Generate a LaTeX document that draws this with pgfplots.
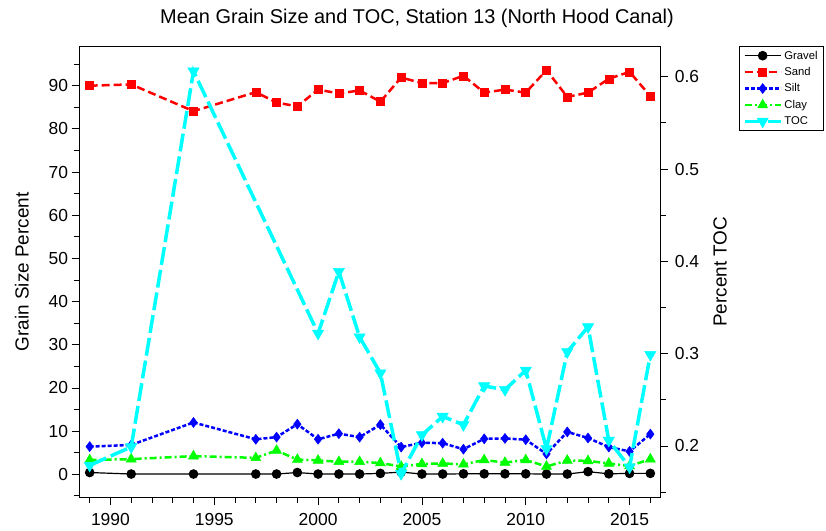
\documentclass[border=0pt]{standalone}
\usepackage{fontspec}
\setmainfont{Liberation Sans}
\usepackage{pgfplots}
\usepackage{pgfplotstable}
\pgfplotsset{compat=1.18}

\pgfplotstableread{
year gravel sand silt clay
1989 0.4 90.0 6.4 3.3
1991 0.05 90.3 6.8 3.5
1994 0.05 84.1 12.0 4.2
1997 0.05 88.5 8.1 3.8
1998 0.05 86.1 8.6 5.5
1999 0.4 85.2 11.6 3.4
2000 0.05 89.1 8.1 3.2
2001 0.05 88.2 9.4 2.9
2002 0.05 88.9 8.6 2.9
2003 0.2 86.3 11.5 2.6
2004 0.5 91.9 6.3 1.8
2005 0.05 90.6 7.3 2.4
2006 0.05 90.6 7.2 2.5
2007 0.1 92.3 5.8 2.3
2008 0.1 88.4 8.2 3.3
2009 0.1 89.1 8.3 2.7
2010 0.1 88.4 8.0 3.3
2011 0.05 93.6 4.7 1.8
2012 0.05 87.4 9.8 3.2
2013 0.6 88.4 8.4 3.1
2014 0.1 91.6 6.3 2.5
2015 0.2 93.2 5.3 1.9
2016 0.2 87.6 9.3 3.5
}\grain

\pgfplotstableread{
year toc
1989 0.179
1991 0.199
1994 0.606
2000 0.322
2001 0.389
2002 0.318
2003 0.279
2004 0.170
2005 0.212
2006 0.232
2007 0.223
2008 0.265
2009 0.261
2010 0.282
2011 0.197
2012 0.302
2013 0.329
2014 0.206
2015 0.177
2016 0.299
}\toc

\definecolor{cred}{RGB}{255,0,0}
\definecolor{cblue}{RGB}{0,0,255}
\definecolor{cgreen}{RGB}{0,255,0}
\definecolor{ccyan}{RGB}{0,255,255}

\pgfplotsset{
  common/.style={
    scale only axis, width=581.4bp, height=451.7bp,
    at={(79.3bp,33.3bp)}, anchor=south west,
    xmin=1988.5, xmax=2016.5,
    tick align=outside,
    major tick length=7.7bp, minor tick length=5bp,
    every tick/.style={black, line width=0.8bp},
    axis line style={line width=0.8bp},
    tick label style={font=\fontsize{17.5}{20}\selectfont},
    /pgf/number format/assume math mode=true,
  },
  gravelstyle/.style={black, solid, line width=1.2bp, mark=*, mark size=4.2bp, mark options={solid}},
  sandstyle/.style={cred, line width=2.5bp, dash pattern=on 8bp off 4bp, mark=square*, mark size=4bp, mark options={solid, line width=0.5bp}},
  siltstyle/.style={cblue, line width=2.5bp, dash pattern=on 4bp off 2bp, mark=diamond*, mark size=5bp, mark options={solid, line width=0.5bp}},
  claystyle/.style={cgreen, line width=2.5bp, dash pattern=on 7bp off 3bp on 2bp off 3bp, mark=triangle*, mark size=5.8bp, mark options={solid, line width=0.5bp}},
  tocstyle/.style={ccyan, line width=3.5bp, dash pattern=on 18bp off 5bp, mark=triangle*, mark size=6.5bp, mark options={solid, rotate=180, line width=0.5bp}},
}

\begin{document}
\begin{tikzpicture}[x=1bp,y=1bp]
\path[use as bounding box] (0,0) rectangle (826,531);
\begin{axis}[common,
  ymin=-5.43, ymax=99.2,
  xtick={1990,1995,...,2015},
  minor xtick={1989,1990,...,2016},
  xtick pos=bottom,
  ytick={0,10,...,90},
  minor ytick={-5,5,...,95},
  ytick pos=left,
  xticklabel style={/pgf/number format/1000 sep={}, yshift=-4bp},
  ylabel={Grain Size Percent},
  ylabel style={font=\fontsize{19}{22}\selectfont, at={(axis description cs:-0.0986,0.5)}, anchor=center},
  legend cell align=left,
  legend image code/.code={\draw[mark repeat=2,mark phase=2,#1] plot coordinates {(0bp,0bp) (18bp,0bp) (36bp,0bp)};},
  legend style={at={(axis description cs:1.1347,1)}, anchor=north west, draw=black, line width=0.8bp,
    font=\fontsize{11.3}{12}\selectfont, inner xsep=3.5bp, inner ysep=2.5bp, row sep=2.8bp},
]
\addplot[gravelstyle] table[x=year, y=gravel] {\grain};
\addlegendentry{Gravel}
\addplot[sandstyle] table[x=year, y=sand] {\grain};
\addlegendentry{Sand}
\addplot[siltstyle] table[x=year, y=silt] {\grain};
\addlegendentry{Silt}
\addplot[claystyle] table[x=year, y=clay] {\grain};
\addlegendentry{Clay}
\addlegendimage{tocstyle}
\addlegendentry{TOC}
\end{axis}
\begin{axis}[common,
  ymin=0.144, ymax=0.6333,
  axis x line=none,
  axis y line*=right,
  ytick={0.2,0.3,0.4,0.5,0.6},
  minor ytick={0.15,0.25,0.35,0.45,0.55},
  yticklabel style={/pgf/number format/fixed, /pgf/number format/fixed zerofill, /pgf/number format/precision=1, xshift=3bp},
  ylabel={Percent TOC},
  ylabel style={font=\fontsize{19}{22}\selectfont, at={(axis description cs:1.102,0.5)}, anchor=center, rotate=0},
]
\addplot[tocstyle] table[x=year, y=toc] {\toc};
\end{axis}
\node[font=\fontsize{20}{24}\selectfont] at (417,513) {Mean Grain Size and TOC, Station 13 (North Hood Canal)};
\end{tikzpicture}
\end{document}
